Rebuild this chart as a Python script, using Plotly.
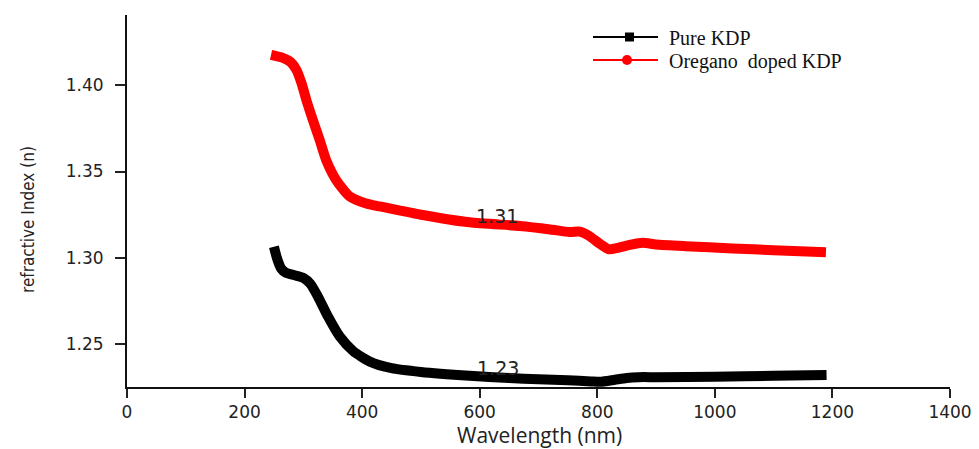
import plotly.graph_objects as go

# ---- data ----
pure_wl = [250, 255, 262, 270, 285, 300, 312, 325, 342, 362, 385, 413, 450, 500,
           583, 650, 700, 750, 790, 805, 830, 850, 870, 900, 1000, 1100, 1190]
pure_n = [1.3065, 1.3000, 1.2940, 1.2915, 1.2900, 1.2885, 1.2850, 1.2775, 1.2660,
          1.2545, 1.2460, 1.2400, 1.2362, 1.2340, 1.2318, 1.2305, 1.2298, 1.2292,
          1.2285, 1.2283, 1.2295, 1.2305, 1.2310, 1.2310, 1.2312, 1.2318, 1.2323]

oregano_wl = [245, 265, 278, 288, 297, 305, 316, 328, 339, 356, 379, 407, 430, 500, 583,
              668, 720, 753, 770, 785, 805, 820, 835, 855, 877, 900, 950, 1030, 1100, 1189]
oregano_n = [1.4175, 1.4158, 1.4135, 1.4090, 1.4010, 1.3915, 1.3800, 1.3680, 1.3565, 1.3450,
             1.3355, 1.3315, 1.3298, 1.3250, 1.3206, 1.3185, 1.3165, 1.3150, 1.3152,
             1.3130, 1.3080, 1.3050, 1.3058, 1.3075, 1.3088, 1.3078, 1.3068, 1.3055,
             1.3045, 1.3033]

series_names = ["Pure KDP", "Oregano  doped KDP"]
series_colors = ["#000000", "#ff0000"]

x_ticks = [0, 200, 400, 600, 800, 1000, 1200, 1400]
y_ticks = [1.25, 1.30, 1.35, 1.40]
y_tick_text = ["1.25", "1.30", "1.35", "1.40"]

labels_text = ["1.31", "1.23"]
labels_x = [629, 631]
labels_y = [1.3244, 1.2364]

# ---- figure ----
fig = go.Figure()
fig.add_trace(go.Scatter(x=pure_wl, y=pure_n, mode="lines", name=series_names[0],
                         line=dict(color=series_colors[0], width=10, shape="spline", smoothing=0.6),
                         showlegend=False))
fig.add_trace(go.Scatter(x=oregano_wl, y=oregano_n, mode="lines", name=series_names[1],
                         line=dict(color=series_colors[1], width=10, shape="spline", smoothing=0.6),
                         showlegend=False))

L, R, T, B = 127, 29, 15, 62
W, H = 979, 449
pw, ph = W - L - R, H - T - B


def px(xp):
    return (xp - L) / pw


def py(yp):
    return (H - B - yp) / ph


annotations = []
for t, xv, yv in zip(labels_text, labels_x, labels_y):
    annotations.append(dict(x=xv, y=yv, xref="x", yref="y", text=t, showarrow=False,
                            font=dict(family="DejaVu Sans, Arial, sans-serif", size=19, color="#222")))

# axis titles
annotations.append(dict(x=px(539), y=py(435), xref="paper", yref="paper", text="Wavelength (nm)",
                        showarrow=False, xanchor="center", yanchor="middle",
                        font=dict(family="Open Sans, sans-serif", size=21, color="#222")))
annotations.append(dict(x=px(28), y=py(220), xref="paper", yref="paper", text="refractive Index (n)",
                        showarrow=False, xanchor="center", yanchor="middle", textangle=-90,
                        font=dict(family="Liberation Sans Narrow, Arial Narrow, DejaVu Sans Condensed, sans-serif",
                                  size=17, color="#222")))

# legend (manual, long line samples like the original)
shapes = []
leg_rows = [37, 60]
for i, (name, col) in enumerate(zip(series_names, series_colors)):
    yy = py(leg_rows[i])
    shapes.append(dict(type="line", xref="paper", yref="paper", x0=px(593), x1=px(658), y0=yy, y1=yy,
                       line=dict(color=col, width=2)))
    if i == 0:
        shapes.append(dict(type="rect", xref="paper", yref="paper", x0=px(625), x1=px(634),
                           y0=py(leg_rows[i] + 4.5), y1=py(leg_rows[i] - 4.5),
                           fillcolor=col, line=dict(width=0)))
    else:
        shapes.append(dict(type="circle", xref="paper", yref="paper", x0=px(622), x1=px(632),
                           y0=py(leg_rows[i] + 5), y1=py(leg_rows[i] - 5),
                           fillcolor=col, line=dict(width=0)))
    annotations.append(dict(x=px(667), y=py(leg_rows[i] + 1), xref="paper", yref="paper", text=name,
                            showarrow=False, xanchor="left", yanchor="middle",
                            font=dict(family="Liberation Serif, Times New Roman, serif", size=20, color="#111")))

fig.update_layout(
    width=W, height=H,
    margin=dict(l=L, r=R, t=T, b=B, autoexpand=False),
    paper_bgcolor="white", plot_bgcolor="white",
    showlegend=False,
    annotations=annotations,
    shapes=shapes,
)
fig.update_xaxes(range=[0, 1400], tickvals=x_ticks, ticks="outside", ticklen=9, tickwidth=1.5,
                 tickcolor="#222", showline=True, linecolor="#111", linewidth=2, showgrid=False,
                 zeroline=False, tickfont=dict(family="DejaVu Sans, Arial, sans-serif", size=17, color="#222"))
fig.update_yaxes(range=[1.2253, 1.4406], tickvals=y_ticks, ticktext=y_tick_text, ticks="outside",
                 ticklen=10, tickwidth=1.5, tickcolor="#222", showline=True, linecolor="#111", linewidth=2,
                 showgrid=False, zeroline=False, ticklabelstandoff=8,
                 tickfont=dict(family="DejaVu Sans, Arial, sans-serif", size=17, color="#222"))

fig.write_html("out.html", config={"displayModeBar": False},
               post_script="document.body.style.margin='0';document.body.style.overflow='hidden';")
